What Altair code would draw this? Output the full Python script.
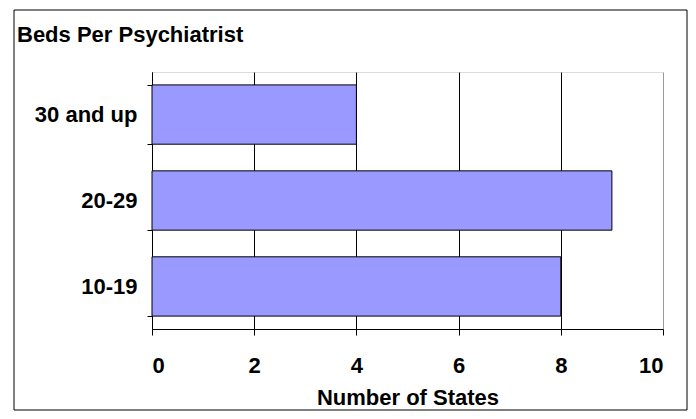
import altair as alt
import pandas as pd

# ---- data ----
categories = ["30 and up", "20-29", "10-19"]
states = [4, 9, 8]
x_ticks = [0, 2, 4, 6, 8, 10]
chart_title = "Beds Per Psychiatrist"
x_title = "Number of States"

FONT = "Liberation Sans, Arial, sans-serif"

df = pd.DataFrame({"category": categories, "states": states})
title_df = pd.DataFrame({"t": [chart_title]})
frame_df = pd.DataFrame({"k": [0]})

bars = alt.Chart(df).mark_bar(
    color="#9999FF", stroke="#000000", strokeWidth=1
).encode(
    x=alt.X(
        "states:Q",
        scale=alt.Scale(domain=[0, 10], nice=False),
        axis=alt.Axis(
            values=x_ticks,
            title=x_title,
            grid=True,
            gridColor=alt.condition(alt.datum.value == 10, alt.value("#999999"), alt.value("#000000")),
            gridOpacity=1,
            gridWidth=1,
            domainColor="#000000",
            tickColor="#000000",
            tickSize=6,
            labelPadding=20,
            labelFont=FONT,
            labelFontSize=22,
            labelFontWeight="bold",
            labelColor="#000000",
            titleFont=FONT,
            titleFontSize=22,
            titleFontWeight="bold",
            titleColor="#000000",
            titlePadding=11,
        ),
    ),
    y=alt.Y(
        "category:N",
        sort=categories,
        scale=alt.Scale(paddingInner=0.31, paddingOuter=0.15),
        axis=alt.Axis(
            title=None,
            grid=False,
            tickBand="extent",
            domainColor="#000000",
            tickColor="#000000",
            tickSize=5,
            labelPadding=10,
            labelFont=FONT,
            labelFontSize=22,
            labelFontWeight="bold",
            labelColor="#000000",
        ),
    ),
)

title_text = alt.Chart(title_df).mark_text(
    align="left", baseline="alphabetic", font=FONT, fontSize=22,
    fontWeight="bold", color="#000000"
).encode(
    x=alt.value(-135), y=alt.value(-30), text="t:N"
)

frame = alt.Chart(frame_df).mark_rect(
    fillOpacity=0, stroke="#000000", strokeWidth=1
).encode(
    x=alt.value(-138), x2=alt.value(535), y=alt.value(-62), y2=alt.value(338)
)

chart = alt.layer(frame, bars, title_text).properties(
    width=511,
    height=257,
    autosize=alt.AutoSizeParams(type="none"),
    padding={"left": 144, "top": 64, "right": 25, "bottom": 82},
).configure_view(
    stroke="#999999", strokeWidth=1
).configure(background="#ffffff")

chart.save("out.html", embed_options={"renderer": "svg", "actions": False})
